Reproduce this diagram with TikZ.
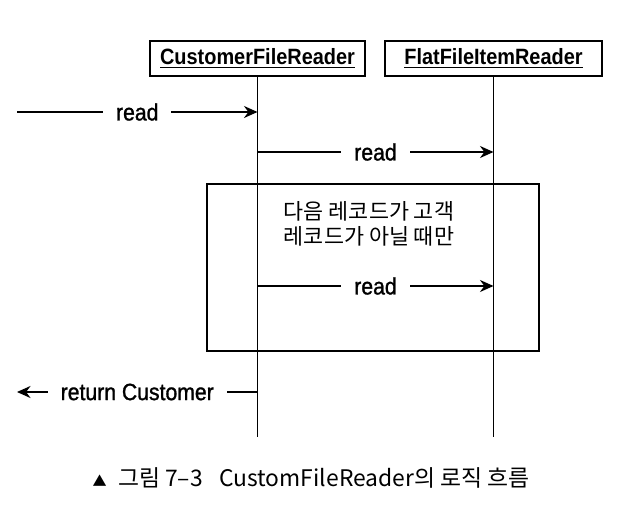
\documentclass[tikz,border=0pt]{standalone}
\usepackage{fontspec}
\setmainfont{Liberation Sans}
\newfontfamily\narrowsf[FakeStretch=0.9]{Liberation Sans}
\newfontfamily\medsf[FakeStretch=0.9, FakeBold=1.2]{Liberation Sans}
\newfontfamily\cjk{Noto Sans CJK KR}
\usetikzlibrary{arrows.meta}

\begin{document}
\begin{tikzpicture}[x=0.02cm, y=-0.02cm,
	objbox/.style={draw, line width=1.2pt, minimum height=0.7cm, inner sep=0pt, font=\narrowsf\bfseries\fontsize{12.6}{14}\selectfont},
	life/.style={line width=0.9pt},
	msg/.style={line width=1pt, -{Stealth[length=2.7mm, width=2.4mm]}},
	msglbl/.style={fill=white, inner xsep=0.26cm, inner ysep=1pt, font=\medsf\fontsize{13.4}{15}\selectfont},
	frame/.style={line width=1.4pt}]
	%%%%% START %%%%%
	\useasboundingbox (0,0) rectangle (622,520);
	
	\node[objbox, minimum width=4.3cm] (cfr) at (257.5,58.5) {\underline{CustomerFileReader}};
	\node[objbox, minimum width=4.34cm] (ffir) at (493.5,58.5) {\underline{FlatFileItemReader}};
	
	\coordinate (cfrend) at (cfr.south |- 0,437);
	\coordinate (ffirend) at (ffir.south |- 0,437);
	\draw[life] (cfr.south) -- (cfrend);
	\draw[life] (ffir.south) -- (ffirend);
	
	\draw[frame] (207,184) rectangle (539,351);
	\node[font=\cjk\fontsize{12.4}{14.2}\selectfont, align=center] (cond) at (369,224) {다음 레코드가 고객\\레코드가 아닐 때만};
	
	\coordinate (in) at (17,112);
	\coordinate (out) at (17,392);
	\draw[msg] (in) -- node[msglbl] (read1) {read} (cfr.south |- in);
	\draw[msg] (cfr.south |- 0,152) -- node[msglbl] (read2) {read} (ffir.south |- 0,152);
	\draw[msg] (cfr.south |- 0,286) -- node[msglbl] (read3) {read} (ffir.south |- 0,286);
	\draw[msg] (cfr.south |- out) -- node[msglbl] (ret) {return Customer} (out);
	
	\node[font=\cjk\fontsize{13}{15}\selectfont] (caption) at (311,478) {{\fontsize{8}{10}\selectfont ▲}\enspace 그림 7–3\enspace\ CustomFileReader의 로직 흐름};
	%%%%% END %%%%%
\end{tikzpicture}
\end{document}
